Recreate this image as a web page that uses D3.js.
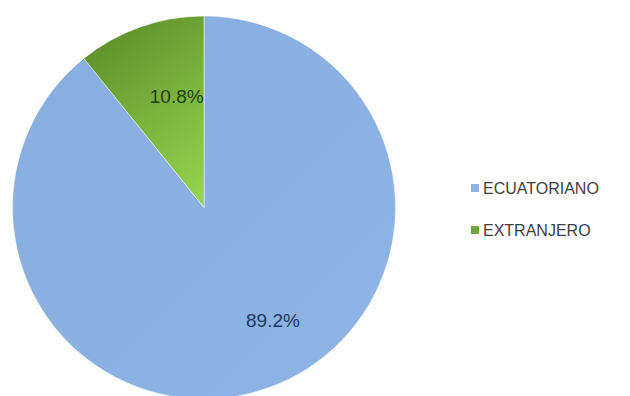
<!DOCTYPE html>
<html>
<head>
<meta charset="utf-8">
<script src="https://cdn.jsdelivr.net/npm/d3@7/dist/d3.min.js"></script>
<style>
  html, body { margin: 0; padding: 0; background: #ffffff; }
  svg { display: block; }
</style>
</head>
<body>
<svg id="chart" width="630" height="396"></svg>
<script>
const categories = ["ECUATORIANO", "EXTRANJERO"];
const values = [89.2, 10.8];
const labels = ["89.2%", "10.8%"];

const W = 630, H = 396;
const cx = 204, cy = 207.5, R = 191.5;
const labelR = [120, 118];
const labelDx = [29, 12];
const labelColors = ["#1f3864", "#243f12"];

const svg = d3.select("#chart");
const defs = svg.append("defs");

const gBlue = defs.append("linearGradient").attr("id", "gBlue")
  .attr("x1", "0%").attr("y1", "0%").attr("x2", "100%").attr("y2", "100%");
gBlue.append("stop").attr("offset", "0%").attr("stop-color", "#87aee0");
gBlue.append("stop").attr("offset", "100%").attr("stop-color", "#8db4e3");

// gradient coordinates are relative to the pie centre (the group is translated)
const gGreen = defs.append("linearGradient").attr("id", "gGreen")
  .attr("gradientUnits", "userSpaceOnUse")
  .attr("x1", -115).attr("y1", -165).attr("x2", 5).attr("y2", -15);
gGreen.append("stop").attr("offset", "0%").attr("stop-color", "#5f8f2b");
gGreen.append("stop").attr("offset", "50%").attr("stop-color", "#7ab33d");
gGreen.append("stop").attr("offset", "100%").attr("stop-color", "#94d44c");

const fills = ["url(#gBlue)", "url(#gGreen)"];
const legendColors = ["#8db4e3", "#6ea53a"];

const color = d3.scaleOrdinal().domain(categories).range(fills);

const pie = d3.pie().sort(null).value(d => d.v);
const data = categories.map((c, i) => ({ c, v: values[i], l: labels[i], i }));
const arcs = pie(data);
const arc = d3.arc().innerRadius(0).outerRadius(R);

const g = svg.append("g").attr("transform", `translate(${cx},${cy})`);
g.selectAll("path").data(arcs).enter().append("path")
  .attr("d", arc)
  .attr("fill", d => color(d.data.c))
  .attr("stroke", "#ffffff")
  .attr("stroke-width", 0.5);

g.selectAll("text.lbl").data(arcs).enter().append("text")
  .attr("class", "lbl")
  .attr("transform", d => {
    const a = d3.arc().innerRadius(labelR[d.data.i]).outerRadius(labelR[d.data.i]);
    const [x, y] = a.centroid(d);
    return `translate(${x + labelDx[d.data.i]},${y})`;
  })
  .attr("text-anchor", "middle")
  .attr("dominant-baseline", "central")
  .attr("font-family", "Liberation Sans, Arial, sans-serif")
  .attr("font-size", 19)
  .attr("fill", d => labelColors[d.data.i])
  .text(d => d.data.l);

// legend
const legendY = d3.scalePoint().domain(categories).range([188, 230]);
const lg = svg.append("g");
const items = lg.selectAll("g").data(categories).enter().append("g")
  .attr("transform", d => `translate(471,${legendY(d)})`);
items.append("rect").attr("x", 0).attr("y", -4).attr("width", 8).attr("height", 8)
  .attr("fill", (d, i) => legendColors[i]);
items.append("text").attr("x", 12).attr("y", 0)
  .attr("dominant-baseline", "central")
  .attr("font-family", "Liberation Sans, Arial, sans-serif")
  .attr("font-size", 16)
  .attr("fill", "#404040")
  .text(d => d);
</script>
</body>
</html>
